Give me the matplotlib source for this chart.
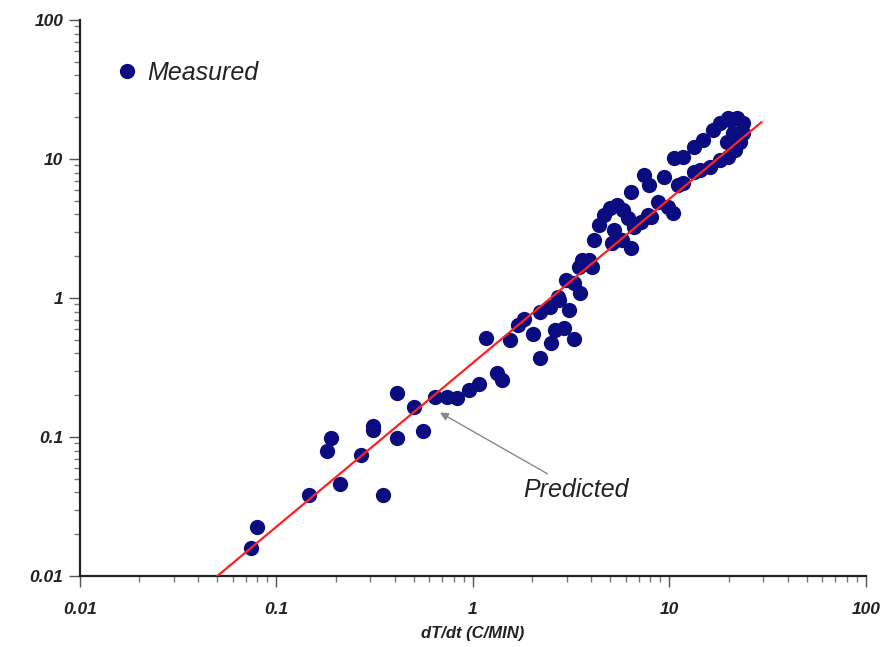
import matplotlib
matplotlib.use('Agg')
import matplotlib.pyplot as plt
from matplotlib.ticker import LogLocator, FuncFormatter, NullFormatter

plt.rcParams['font.family'] = ['Liberation Sans', 'DejaVu Sans']

# measured dT/dt vs rate
meas_x = [0.074, 0.080, 0.146, 0.21, 0.18, 0.19, 0.27, 0.31, 0.31, 0.35,
          0.41, 0.41, 0.50, 0.56, 0.645, 0.74, 0.83, 0.95, 1.07, 1.32,
          1.40, 1.16, 1.55, 1.70, 1.82, 2.02, 2.19, 2.19, 2.46, 2.49,
          2.61, 2.73, 2.92, 3.10, 3.28, 2.96, 3.28, 3.52, 3.48, 4.04,
          2.70, 3.60, 3.90, 4.14, 4.38, 4.64, 4.97, 5.39, 5.84, 6.19,
          5.21, 5.09, 5.71, 6.41, 6.64, 7.19, 8.07, 6.41, 7.45, 7.89,
          8.75, 9.38, 9.82, 10.4, 11.0, 11.8, 7.80, 10.5, 11.8, 13.3,
          14.9, 16.7, 18.1, 19.9, 22.0, 23.6, 23.6, 22.8, 21.5, 19.9,
          18.1, 16.1, 14.4, 13.3, 19.6, 21.0, 20.3]
meas_y = [0.016, 0.0225, 0.038, 0.046, 0.079, 0.098, 0.074, 0.112, 0.121, 0.038,
          0.098, 0.207, 0.164, 0.11, 0.194, 0.194, 0.19, 0.218, 0.24, 0.29,
          0.257, 0.52, 0.50, 0.64, 0.71, 0.55, 0.79, 0.37, 0.86, 0.475,
          0.59, 0.97, 0.61, 0.82, 0.51, 1.35, 1.28, 1.09, 1.67, 1.67,
          1.02, 1.88, 1.88, 2.61, 3.35, 3.96, 4.44, 4.67, 4.30, 3.77,
          3.08, 2.49, 2.61, 2.29, 3.24, 3.52, 3.83, 5.79, 7.67, 6.50,
          4.91, 7.43, 4.52, 4.09, 6.50, 6.72, 3.96, 10.2, 10.3, 12.2,
          13.7, 16.2, 18.2, 19.7, 19.7, 18.2, 15.4, 13.3, 11.6, 10.3,
          9.84, 8.76, 8.34, 8.06, 13.3, 15.4, 19.1]

# predicted power law (straight on log-log)
pred_x = [0.05, 29.4]
pred_y = [0.01, 18.4]

arrow_tip = (0.68, 0.15)
label_pos = (1.80, 0.0416)

fig = plt.figure(figsize=(8.8, 6.47), dpi=100)
ax = fig.add_axes([0.0909, 0.1097, 0.893, 0.8593])

ax.plot(pred_x, pred_y, color='#ff2222', lw=1.6, zorder=3)
ax.plot(meas_x, meas_y, 'o', color='#0b0c80', ms=11, mew=0, zorder=2, label='Measured')

ax.set_xscale('log')
ax.set_yscale('log')
ax.set_xlim(0.01, 100)
ax.set_ylim(0.01, 100)

for s in ['top', 'right']:
    ax.spines[s].set_visible(False)
for s in ['left', 'bottom']:
    ax.spines[s].set_linewidth(1.6)
    ax.spines[s].set_color('#222222')

fmt = FuncFormatter(lambda v, p: '%g' % v)
for axis in [ax.xaxis, ax.yaxis]:
    axis.set_major_locator(LogLocator(base=10, numticks=10))
    axis.set_minor_locator(LogLocator(base=10, subs=range(2, 10), numticks=10))
    axis.set_major_formatter(fmt)
    axis.set_minor_formatter(NullFormatter())

ax.tick_params(which='major', length=8, width=1, color='#555555')
ax.tick_params(which='minor', length=4, width=1, color='#777777')
ax.tick_params(axis='x', which='major', pad=11)
ax.tick_params(axis='y', which='major', pad=4)
for lab in ax.get_xticklabels() + ax.get_yticklabels():
    lab.set_fontweight('bold')
    lab.set_fontstyle('italic')
    lab.set_fontsize(12.5)
    lab.set_color('#222222')

ax.set_xlabel('dT/dt (C/MIN)', fontsize=12, fontweight='bold', fontstyle='italic',
              color='#222222', labelpad=6)

ax.annotate('Predicted', xy=arrow_tip, xytext=label_pos, fontsize=18, fontstyle='italic',
            color='#222222', va='center', ha='left',
            arrowprops=dict(arrowstyle='-|>', color='#888888', lw=1, mutation_scale=12,
                            shrinkA=2, shrinkB=0))

leg = ax.legend(loc='center left', bbox_to_anchor=(0.035, 0.905), frameon=False,
                prop={'size': 18, 'style': 'italic'}, handlelength=0.6,
                handletextpad=0.5, borderpad=0)
for t in leg.get_texts():
    t.set_color('#222222')

fig.savefig('out.png', dpi=100)
